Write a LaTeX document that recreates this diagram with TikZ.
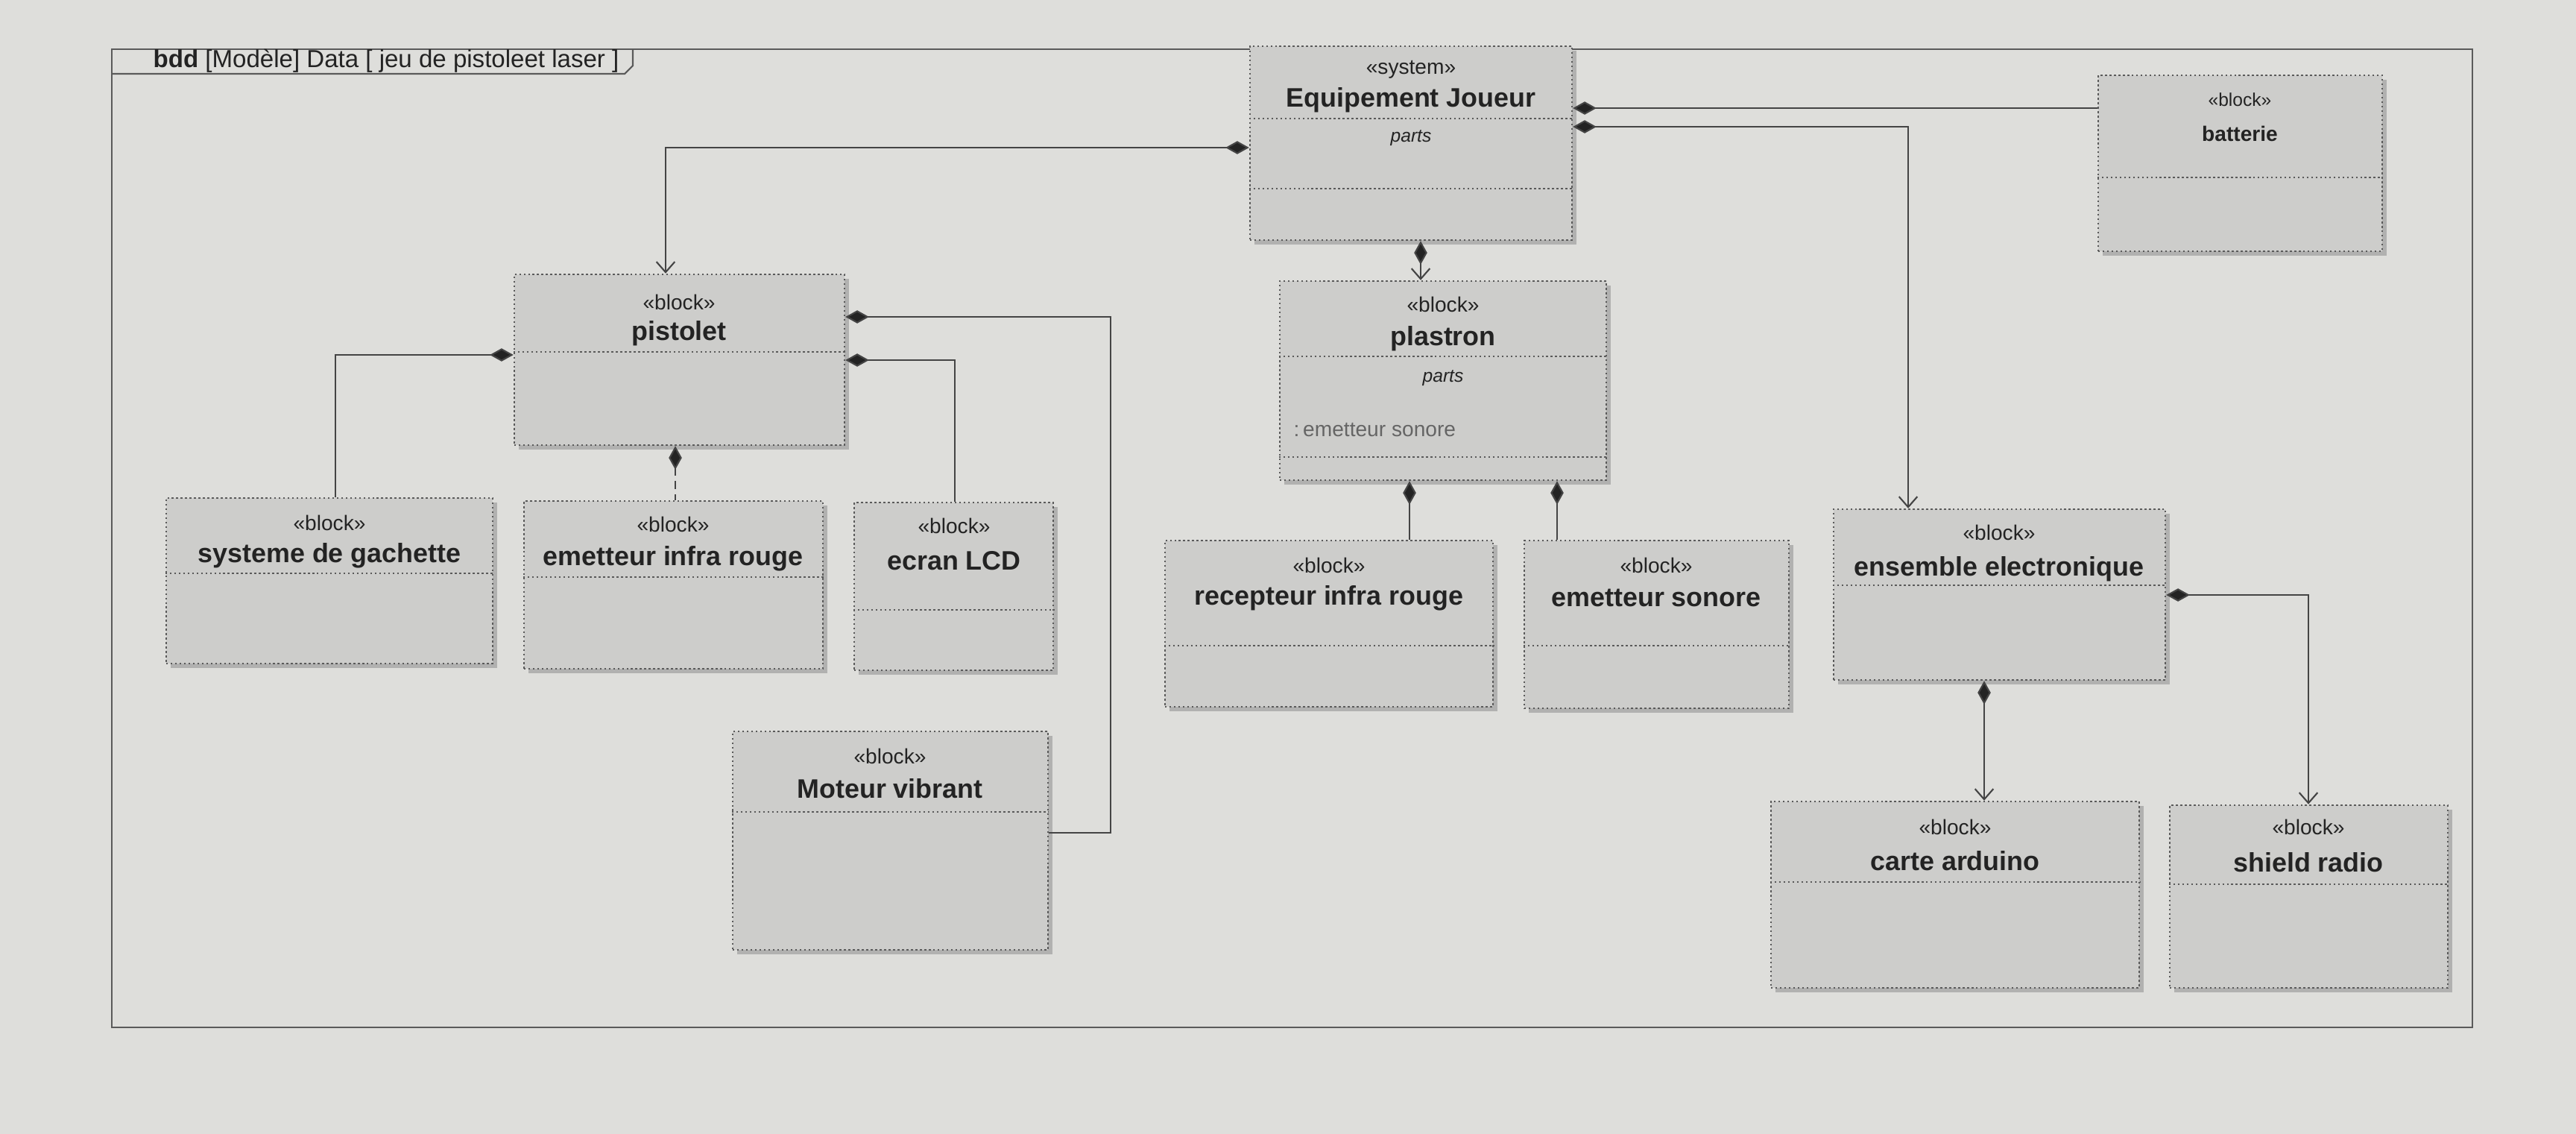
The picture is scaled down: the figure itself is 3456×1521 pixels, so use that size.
\documentclass[tikz,border=0pt]{standalone}
\usepackage{fontspec}
\setmainfont{Liberation Sans}
\usetikzlibrary{arrows.meta,fit,shadows}
\definecolor{paper}{RGB}{222,222,219}
\definecolor{boxfill}{RGB}{205,205,203}
\definecolor{ink}{RGB}{35,35,35}
\definecolor{edge}{RGB}{90,90,90}
\begin{document}
\begin{tikzpicture}[x=0.01cm,y=-0.01cm,
  blk/.style={draw=edge, densely dotted, line width=0.7pt, fill=boxfill, inner sep=0pt,
    drop shadow={shadow xshift=1.6pt, shadow yshift=-1.6pt, fill=gray!75, opacity=0.7}},
  cline/.style={draw=edge, densely dotted, line width=0.7pt},
  stereo/.style={text=ink, font=\fontsize{8}{9}\selectfont, inner sep=0pt},
  bname/.style={text=ink, font=\fontsize{10.2}{12}\selectfont\bfseries, inner sep=0pt},
  comp/.style={draw=ink!85, line width=0.6pt, {Diamond[length=9pt,width=5pt,fill=ink]}-{Straight Barb[length=4pt,width=7pt]}},
  compn/.style={draw=ink!85, line width=0.6pt, {Diamond[length=9pt,width=5pt,fill=ink]}-},
]
\fill[paper] (0,0) rectangle (3456,1521);
\useasboundingbox (0,0) rectangle (3456,1521);

% frame
\draw[edge, line width=0.6pt] (150,66) rectangle (3317,1378);
\draw[edge, line width=0.6pt] (150,99) -- (838,99) -- (849,88) -- (849,66);
\node[anchor=west, text=ink, inner sep=0pt, font=\fontsize{9.4}{11}\selectfont] (title) at (205,82)
  {\textbf{bdd} [Modèle] Data [ jeu de pistoleet laser ]};

% blocks
\node[blk, fit={(1677,62) (2109,322)}] (ej) {};
\node[blk, fit={(2815,101) (3196,337)}] (bat) {};
\node[blk, fit={(690,368) (1133,597)}] (pist) {};
\node[blk, fit={(1717,377) (2155,644)}] (plas) {};
\node[blk, fit={(223,668) (661,890)}] (gach) {};
\node[blk, fit={(703,672) (1104,897)}] (eir) {};
\node[blk, fit={(1146,674) (1413,899)}] (lcd) {};
\node[blk, fit={(1563,725) (2003,948)}] (rec) {};
\node[blk, fit={(2045,725) (2400,950)}] (ems) {};
\node[blk, fit={(2460,683) (2905,912)}] (ens) {};
\node[blk, fit={(983,981) (1406,1274)}] (mot) {};
\node[blk, fit={(2376,1075) (2870,1325)}] (ard) {};
\node[blk, fit={(2911,1080) (3284,1325)}] (shr) {};

% compartment lines
\draw[cline] (ej.west |- 0,159) -- (ej.east |- 0,159);
\draw[cline] (ej.west |- 0,253) -- (ej.east |- 0,253);
\draw[cline] (bat.west |- 0,238) -- (bat.east |- 0,238);
\draw[cline] (pist.west |- 0,472) -- (pist.east |- 0,472);
\draw[cline] (plas.west |- 0,478) -- (plas.east |- 0,478);
\draw[cline] (plas.west |- 0,613) -- (plas.east |- 0,613);
\draw[cline] (gach.west |- 0,769) -- (gach.east |- 0,769);
\draw[cline] (eir.west |- 0,774) -- (eir.east |- 0,774);
\draw[cline] (lcd.west |- 0,818) -- (lcd.east |- 0,818);
\draw[cline] (rec.west |- 0,866) -- (rec.east |- 0,866);
\draw[cline] (ems.west |- 0,866) -- (ems.east |- 0,866);
\draw[cline] (ens.west |- 0,785) -- (ens.east |- 0,785);
\draw[cline] (mot.west |- 0,1089) -- (mot.east |- 0,1089);
\draw[cline] (ard.west |- 0,1183) -- (ard.east |- 0,1183);
\draw[cline] (shr.west |- 0,1186) -- (shr.east |- 0,1186);

% texts
\node[stereo] (ej-s) at (1893,93) {«system»};
\node[bname] (ej-n) at (1893,134) {Equipement Joueur};
\node[stereo, font=\fontsize{7}{8}\selectfont\itshape] (ej-p) at (1893,185) {parts};
\node[stereo, font=\fontsize{7}{8}\selectfont] (bat-s) at (3005,134) {«block»};
\node[bname, font=\fontsize{8}{9}\selectfont\bfseries] (bat-n) at (3005,179) {batterie};
\node[stereo] (pist-s) at (911,405) {«block»};
\node[bname] (pist-n) at (911,447) {pistolet};
\node[stereo] (plas-s) at (1936,408) {«block»};
\node[bname] (plas-n) at (1936,454) {plastron};
\node[stereo, font=\fontsize{7}{8}\selectfont\itshape] (plas-p) at (1936,507) {parts};
\node[stereo, anchor=west, text=ink!70] (plas-a) at (1735,577) {:\,emetteur sonore};
\node[stereo] (gach-s) at (442,701) {«block»};
\node[bname] (gach-n) at (442,745) {systeme de gachette};
\node[stereo] (eir-s) at (903,703) {«block»};
\node[bname] (eir-n) at (903,749) {emetteur infra rouge};
\node[stereo] (lcd-s) at (1280,705) {«block»};
\node[bname] (lcd-n) at (1280,752) {ecran LCD};
\node[stereo] (rec-s) at (1783,758) {«block»};
\node[bname] (rec-n) at (1783,802) {recepteur infra rouge};
\node[stereo] (ems-s) at (2222,758) {«block»};
\node[bname] (ems-n) at (2222,802) {emetteur sonore};
\node[stereo] (ens-s) at (2682,714) {«block»};
\node[bname] (ens-n) at (2682,763) {ensemble electronique};
\node[stereo] (mot-s) at (1194,1014) {«block»};
\node[bname] (mot-n) at (1194,1058) {Moteur vibrant};
\node[stereo] (ard-s) at (2623,1109) {«block»};
\node[bname] (ard-n) at (2623,1155) {carte arduino};
\node[stereo] (shr-s) at (3097,1109) {«block»};
\node[bname] (shr-n) at (3097,1157) {shield radio};

% connectors
\draw[comp] (ej.west |- 0,198) -| (pist.north -| 893,0);
\draw[comp] (ej.south -| 1906,0) -- (plas.north -| 1906,0);
\draw[compn] (ej.east |- 0,145) -- (bat.west |- 0,145);
\draw[comp] (ej.east |- 0,170) -| (ens.north -| 2560,0);
\draw[compn] (pist.west |- 0,476) -| (gach.north -| 450,0);
\draw[compn, densely dashed] (pist.south -| 906,0) -- (eir.north -| 906,0);
\draw[compn] (pist.east |- 0,483) -| (lcd.north -| 1281,0);
\coordinate (hturn) at (1490,1117);
\draw[compn] (pist.east |- 0,425) -| (hturn) -- (mot.east |- 0,1117);
\draw[compn] (plas.south -| 1891,0) -- (rec.north -| 1891,0);
\draw[compn] (plas.south -| 2089,0) -- (ems.north -| 2089,0);
\draw[comp] (ens.south -| 2662,0) -- (ard.north -| 2662,0);
\draw[comp] (ens.east |- 0,798) -| (shr.north -| 3097,0);
\end{tikzpicture}
\end{document}
